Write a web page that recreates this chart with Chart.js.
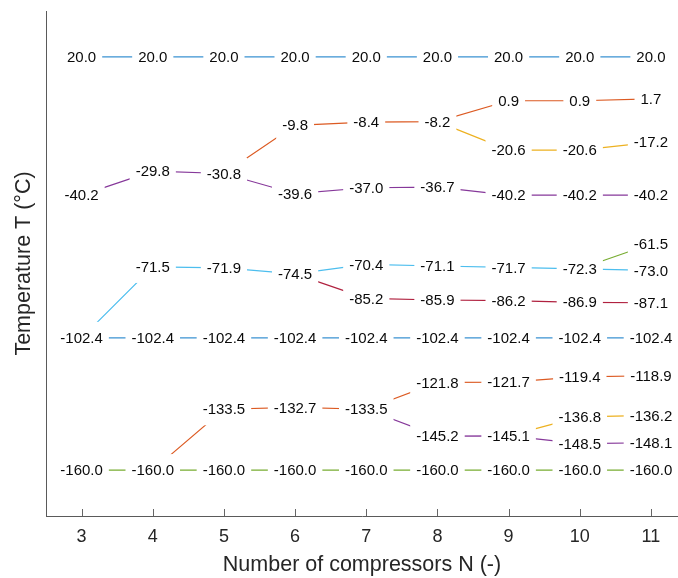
<!DOCTYPE html>
<html>
<head>
<meta charset="utf-8">
<script src="https://cdn.jsdelivr.net/npm/chart.js@4/dist/chart.umd.min.js"></script>
<style>
  html, body { margin: 0; padding: 0; background: #ffffff; }
  #chartBox { width: 678px; height: 578px; }
</style>
</head>
<body>
<div id="chartBox"><canvas id="temperatureChart" width="678" height="578"></canvas></div>
<script>
// Number of compressors (x axis)
const compressors = [3, 4, 5, 6, 7, 8, 9, 10, 11];
const tickValues = [3, 4, 5, 6, 7, 8, 9, 10, 11];

// Temperature levels per N (null = level not present)
const ambientLevel   = [20.0, 20.0, 20.0, 20.0, 20.0, 20.0, 20.0, 20.0, 20.0];
const upperBranch    = [null, null, -30.8, -9.8, -8.4, -8.2, 0.9, 0.9, 1.7];
const upperSplit     = [null, null, null, null, null, -8.2, -20.6, -20.6, -17.2];
const firstStage     = [-40.2, -29.8, -30.8, -39.6, -37.0, -36.7, -40.2, -40.2, -40.2];
const secondStage    = [-102.4, -71.5, -71.9, -74.5, -70.4, -71.1, -71.7, -72.3, -73.0];
const secondSplit    = [null, null, null, -74.5, -85.2, -85.9, -86.2, -86.9, -87.1];
const secondTop      = [null, null, null, null, null, null, null, -72.3, -61.5];
const middleLevel    = [-102.4, -102.4, -102.4, -102.4, -102.4, -102.4, -102.4, -102.4, -102.4];
const lowerBranch    = [null, -160.0, -133.5, -132.7, -133.5, -121.8, -121.7, -119.4, -118.9];
const lowerSplit     = [null, null, null, null, -133.5, -145.2, -145.1, -148.5, -148.1];
const lowerTop       = [null, null, null, null, null, null, -145.1, -136.8, -136.2];
const coldLevel      = [-160.0, -160.0, -160.0, -160.0, -160.0, -160.0, -160.0, -160.0, -160.0];

// Series order and line colours (MATLAB-like palette)
const allSeries = [
  ambientLevel, upperBranch, upperSplit, firstStage, secondStage, secondSplit,
  secondTop, middleLevel, lowerBranch, lowerSplit, lowerTop, coldLevel
];
const seriesColors = [
  "#3a92d2", "#dc5a22", "#edb120", "#86389a", "#4dbeee", "#b0213f",
  "#77ac30", "#3a92d2", "#dc5a22", "#86389a", "#edb120", "#77ac30"
];

const fontFamily = '"Liberation Sans", Arial, Helvetica, sans-serif';

// Build the datasets from the arrays
const datasets = allSeries.map((values, i) => ({
  data: compressors.map((n, j) => ({ x: n, y: values[j] })),
  borderColor: seriesColors[i],
  borderWidth: 1.2,
  pointRadius: 0,
  tension: 0,
  fill: false,
  spanGaps: false,
}));

// Value labels with white background, drawn over the lines
const valueLabelPlugin = {
  id: "valueLabels",
  afterDatasetsDraw(chart) {
    const { ctx, scales } = chart;
    const xs = scales.x;
    const ys = scales.y;
    const seen = new Set();
    const items = [];
    allSeries.forEach((values) => {
      values.forEach((v, j) => {
        if (v === null) return;
        const key = compressors[j] + "|" + v;
        if (seen.has(key)) return;
        seen.add(key);
        items.push({ px: xs.getPixelForValue(compressors[j]), py: ys.getPixelForValue(v), text: v.toFixed(1) });
      });
    });
    ctx.save();
    ctx.font = "15px " + fontFamily;
    ctx.textAlign = "center";
    ctx.textBaseline = "middle";
    // boxes first, then text
    items.forEach((it) => {
      const w = ctx.measureText(it.text).width;
      ctx.fillStyle = "#ffffff";
      ctx.fillRect(it.px - w / 2 - 6, it.py - 16, w + 12, 32);
    });
    ctx.fillStyle = "#0a0a0a";
    items.forEach((it) => {
      ctx.fillText(it.text, it.px, it.py + 1);
    });
    ctx.restore();
  },
};

// Small inward tick marks on the x axis
const innerTickPlugin = {
  id: "innerTicks",
  afterDraw(chart) {
    const { ctx, chartArea, scales } = chart;
    ctx.save();
    ctx.strokeStyle = "#666666";
    ctx.lineWidth = 1;
    scales.x.ticks.forEach((t) => {
      const px = Math.round(scales.x.getPixelForValue(t.value)) + 0.5;
      ctx.beginPath();
      ctx.moveTo(px, chartArea.bottom);
      ctx.lineTo(px, chartArea.bottom - 7);
      ctx.stroke();
    });
    ctx.restore();
  },
};

const config = {
  type: "line",
  data: { datasets: datasets },
  options: {
    responsive: false,
    animation: false,
    devicePixelRatio: 1,
    layout: { padding: { top: 11, right: 0, bottom: 0, left: 0 } },
    plugins: {
      legend: { display: false },
      tooltip: { enabled: false },
    },
    scales: {
      x: {
        type: "linear",
        min: 2.5,
        max: 11.38,
        afterBuildTicks: (scale) => {
          scale.ticks = tickValues.map((v) => ({ value: v }));
        },
        afterFit: (scale) => {
          scale.height = 62;
        },
        ticks: {
          font: { size: 18, family: fontFamily },
          color: "#262626",
          padding: 10,
          callback: (v) => String(v),
        },
        grid: { display: false, drawTicks: false },
        border: { display: true, color: "#5a5a5a", width: 1 },
        title: {
          display: true,
          text: "Number of compressors N (-)",
          font: { size: 21.5, family: fontFamily },
          color: "#262626",
          padding: { top: 0, bottom: 0 },
        },
      },
      y: {
        type: "linear",
        min: -180,
        max: 40,
        afterFit: (scale) => {
          scale.width = 46;
        },
        ticks: { display: false },
        grid: { display: false, drawTicks: false },
        border: { display: true, color: "#5a5a5a", width: 1 },
        title: {
          display: true,
          text: "Temperature T (°C)",
          font: { size: 21.5, family: fontFamily },
          color: "#262626",
          padding: { top: 11, bottom: 0 },
        },
      },
    },
  },
  plugins: [valueLabelPlugin, innerTickPlugin],
};

const temperatureCtx = document.getElementById("temperatureChart").getContext("2d");
const temperatureChart = new Chart(temperatureCtx, config);
</script>
</body>
</html>
